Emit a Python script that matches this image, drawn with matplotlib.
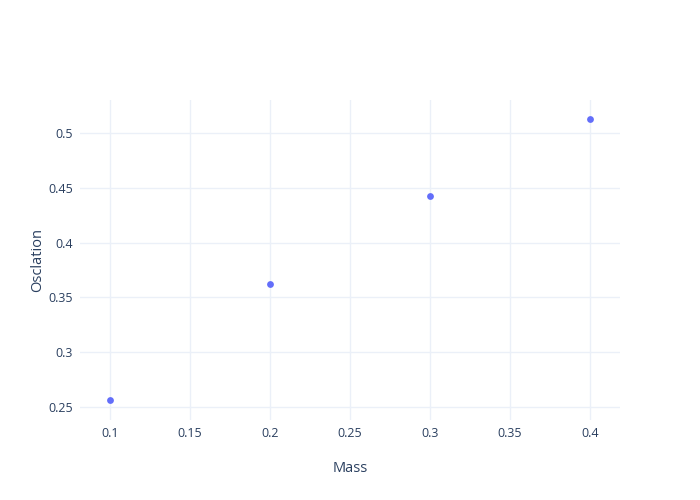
import matplotlib
matplotlib.use("Agg")
import matplotlib.pyplot as plt

# data
mass = [0.1, 0.2, 0.3, 0.4]
osc = [0.2564, 0.3622, 0.4425, 0.5128]
xticks = [0.1, 0.15, 0.2, 0.25, 0.3, 0.35, 0.4]
xlabels = ["0.1", "0.15", "0.2", "0.25", "0.3", "0.35", "0.4"]
yticks = [0.25, 0.3, 0.35, 0.4, 0.45, 0.5]
ylabels = ["0.25", "0.3", "0.35", "0.4", "0.45", "0.5"]

plt.rcParams['font.family'] = ['Open Sans', 'DejaVu Sans']
TXT = '#2a3f5f'
GRID = '#ebf0f8'

fig = plt.figure(figsize=(7, 5), dpi=100, facecolor='white')
ax = fig.add_axes([80/700, 80/500, 540/700, 320/500])
ax.set_facecolor('white')
ax.scatter(mass, osc, s=24, color='#636efa', zorder=3, linewidths=0)

ax.set_xlim(0.08125, 0.41875)
ax.set_ylim(0.2381, 0.530)
ax.set_xticks(xticks)
ax.set_xticklabels(xlabels)
ax.set_yticks(yticks)
ax.set_yticklabels(ylabels)
ax.grid(True, color=GRID, lw=1)
ax.set_axisbelow(True)
for sp in ax.spines.values():
    sp.set_visible(False)
ax.tick_params(length=0, labelsize=9, colors=TXT, pad=5)
ax.set_xlabel("Mass", fontsize=10.5, color=TXT, labelpad=15)
ax.set_ylabel("Osclation", fontsize=10.5, color=TXT, labelpad=2)

plt.savefig("out.png", dpi=100, facecolor='white')
